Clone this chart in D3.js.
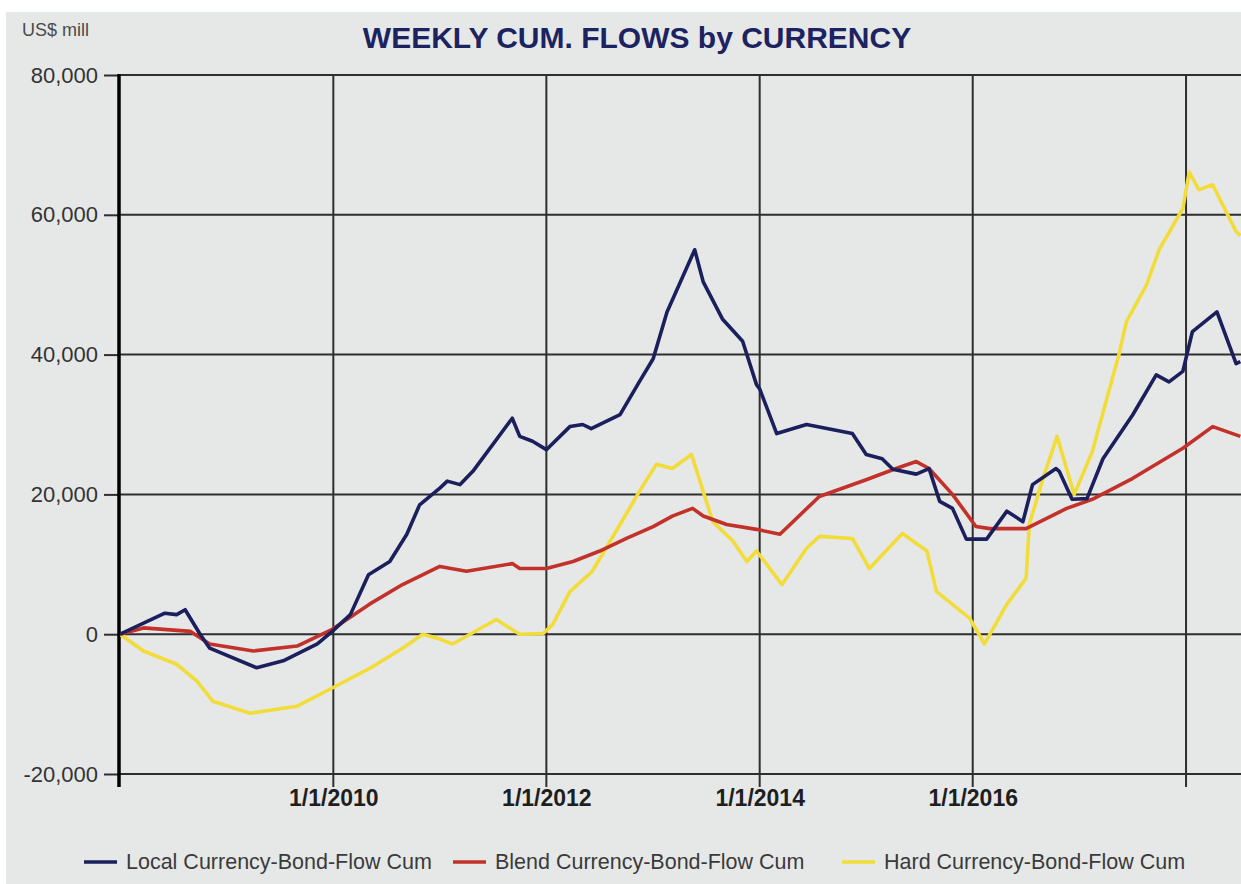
<!DOCTYPE html>
<html>
<head>
<meta charset="utf-8">
<script src="https://cdn.jsdelivr.net/npm/d3@7/dist/d3.min.js"></script>
<style>
  body { margin: 0; background: #fff; }
  svg { display: block; font-family: Arial, "Liberation Sans", sans-serif; }
</style>
</head>
<body>
<script>
// values: [decimal year, US$ mill]
const localFlow = [
  [2008.00, 0], [2008.42, 3000], [2008.53, 2800], [2008.61, 3500], [2008.75, 0],
  [2008.84, -2000], [2009.28, -4800], [2009.53, -3800], [2009.85, -1400], [2009.99, 400],
  [2010.16, 2800], [2010.33, 8500], [2010.53, 10400], [2010.69, 14300], [2010.81, 18500],
  [2011.00, 20900], [2011.07, 21900], [2011.19, 21400], [2011.31, 23300], [2011.68, 30900],
  [2011.75, 28300], [2011.87, 27600], [2012.00, 26400], [2012.22, 29700], [2012.34, 30000],
  [2012.42, 29400], [2012.69, 31400], [2012.87, 36100], [2013.00, 39400], [2013.13, 46100],
  [2013.39, 55000], [2013.47, 50400], [2013.65, 45100], [2013.84, 41900], [2013.97, 35700],
  [2014.00, 35100], [2014.16, 28700], [2014.44, 30000], [2014.87, 28700], [2015.00, 25700],
  [2015.15, 25100], [2015.25, 23600], [2015.47, 22900], [2015.59, 23700], [2015.69, 19000],
  [2015.81, 18000], [2015.94, 13600], [2016.13, 13600], [2016.32, 17600], [2016.47, 16100],
  [2016.56, 21400], [2016.78, 23700], [2016.81, 23300], [2016.93, 19300], [2017.07, 19400],
  [2017.22, 25100], [2017.50, 31400], [2017.72, 37100], [2017.84, 36100], [2017.97, 37600],
  [2018.06, 43300], [2018.29, 46100], [2018.47, 38700], [2018.51, 39000]
];

const blendFlow = [
  [2008.00, 0], [2008.22, 900], [2008.66, 400], [2008.84, -1400], [2009.25, -2400],
  [2009.66, -1700], [2009.99, 700], [2010.34, 4300], [2010.65, 7100], [2011.00, 9700],
  [2011.25, 9000], [2011.68, 10100], [2011.75, 9400], [2012.00, 9400], [2012.25, 10400],
  [2012.50, 11900], [2012.75, 13700], [2013.00, 15400], [2013.18, 16900], [2013.37, 18000],
  [2013.47, 16900], [2013.69, 15700], [2013.97, 15000], [2014.19, 14300], [2014.56, 19700],
  [2015.00, 22100], [2015.28, 23700], [2015.47, 24700], [2015.59, 23700], [2015.81, 20000],
  [2016.03, 15400], [2016.16, 15100], [2016.50, 15100], [2016.88, 18000], [2017.12, 19300],
  [2017.50, 22300], [2017.97, 26600], [2018.25, 29700], [2018.51, 28300]
];

const hardFlow = [
  [2008.00, 0], [2008.22, -2400], [2008.53, -4300], [2008.72, -6700], [2008.87, -9600],
  [2009.22, -11300], [2009.66, -10300], [2009.99, -7700], [2010.34, -4900], [2010.65, -2000],
  [2010.84, 0], [2011.00, -700], [2011.12, -1400], [2011.53, 2100], [2011.75, 0],
  [2011.97, 100], [2012.06, 1400], [2012.22, 6100], [2012.43, 9000], [2012.69, 15700],
  [2012.87, 20400], [2013.03, 24300], [2013.18, 23700], [2013.36, 25700], [2013.47, 20400],
  [2013.56, 16100], [2013.75, 13300], [2013.88, 10400], [2013.97, 11900], [2014.21, 7100],
  [2014.44, 12300], [2014.56, 14000], [2014.87, 13700], [2015.03, 9400], [2015.34, 14400],
  [2015.57, 11900], [2015.66, 6100], [2015.97, 2300], [2016.11, -1400], [2016.32, 4300],
  [2016.50, 8000], [2016.53, 15700], [2016.65, 21900], [2016.79, 28300], [2016.95, 20000],
  [2017.12, 26100], [2017.37, 40000], [2017.44, 44700], [2017.63, 50000], [2017.75, 55100],
  [2017.97, 60900], [2018.03, 66100], [2018.12, 63600], [2018.25, 64300], [2018.47, 57600],
  [2018.51, 57000]
];

const seriesNames = ["Local Currency-Bond-Flow Cum", "Blend Currency-Bond-Flow Cum", "Hard Currency-Bond-Flow Cum"];
const yTicks = [-20000, 0, 20000, 40000, 60000, 80000];
const xTickYears = [2010, 2012, 2014, 2016, 2018];
const xTickLabels = ["1/1/2010", "1/1/2012", "1/1/2014", "1/1/2016", ""];

const colors = ["#1b1f5c", "#c2322b", "#f2dc3a"];

const W = 1241, H = 884;
const m = {left: 120, right: 1241, top: 75, bottom: 774};

// decimal year -> Date
function toDate(yr) {
  const yy = Math.floor(yr);
  const a = Date.UTC(yy, 0, 1), b = Date.UTC(yy + 1, 0, 1);
  return new Date(a + (yr - yy) * (b - a));
}

const svg = d3.select("body").append("svg")
    .attr("width", W)
    .attr("height", H);

// background
svg.append("rect").attr("x", 6).attr("y", 12).attr("width", W - 6).attr("height", H - 12)
    .attr("fill", "#e6e8e8");

const x = d3.scaleUtc()
    .domain([toDate(2008), toDate(2018.516)])
    .range([m.left, m.right]);

const y = d3.scaleLinear()
    .domain([-20000, 80000])
    .range([m.bottom, m.top]);

// horizontal gridlines
svg.append("g")
  .selectAll("line")
  .data(yTicks)
  .join("line")
    .attr("x1", m.left).attr("x2", m.right)
    .attr("y1", d => y(d)).attr("y2", d => y(d))
    .attr("stroke", "#2e2e2e")
    .attr("stroke-width", 2);

// vertical gridlines, running a bit below the plot as tick marks
svg.append("g")
  .selectAll("line")
  .data(xTickYears)
  .join("line")
    .attr("x1", d => x(toDate(d))).attr("x2", d => x(toDate(d)))
    .attr("y1", m.top).attr("y2", m.bottom + 13)
    .attr("stroke", "#2e2e2e")
    .attr("stroke-width", 2);

// y axis
const fmt = d3.format(",");
const yAxis = d3.axisLeft(y)
    .tickValues(yTicks)
    .tickFormat(d => fmt(d).replace("\u2212", "-"))
    .tickSize(16)
    .tickPadding(6);

const gy = svg.append("g")
    .attr("transform", `translate(${m.left},0)`)
    .call(yAxis);
gy.select(".domain").remove();
gy.selectAll(".tick line").attr("stroke", "#2e2e2e").attr("stroke-width", 2);
gy.selectAll(".tick text")
    .attr("fill", "#333")
    .style("font-size", "22px")
    .style("font-family", "Arial, 'Liberation Sans', sans-serif");

svg.append("line")
    .attr("x1", m.left - 1).attr("x2", m.left - 1)
    .attr("y1", m.top - 1).attr("y2", m.bottom + 13)
    .attr("stroke", "#000")
    .attr("stroke-width", 3.5);

// x labels
const xAxis = d3.axisBottom(x)
    .tickValues(xTickYears.map(toDate))
    .tickFormat((d, i) => xTickLabels[i])
    .tickSize(0)
    .tickPadding(16);

const gx = svg.append("g")
    .attr("transform", `translate(0,${m.bottom})`)
    .call(xAxis);
gx.select(".domain").remove();
gx.selectAll(".tick text")
    .attr("fill", "#1e1e1e")
    .style("font-size", "23px")
    .style("font-weight", "bold")
    .style("font-family", "Arial, 'Liberation Sans', sans-serif");

// lines
svg.append("clipPath").attr("id", "plot")
  .append("rect").attr("x", m.left).attr("y", m.top)
    .attr("width", m.right - m.left).attr("height", m.bottom - m.top);

const line = d3.line()
    .x(d => x(toDate(d[0])))
    .y(d => y(d[1]));

const series = [localFlow, blendFlow, hardFlow];
const order = [2, 1, 0];
svg.append("g")
    .attr("clip-path", "url(#plot)")
  .selectAll("path")
  .data(order)
  .join("path")
    .attr("d", i => line(series[i]))
    .attr("fill", "none")
    .attr("stroke", i => colors[i])
    .attr("stroke-width", 3.6)
    .attr("stroke-linejoin", "round");

// title and unit
svg.append("text")
    .attr("x", 637).attr("y", 48)
    .attr("text-anchor", "middle")
    .attr("fill", "#1c2360")
    .style("font-size", "30px")
    .style("font-weight", "bold")
    .text("WEEKLY CUM. FLOWS by CURRENCY");

svg.append("text")
    .attr("x", 22).attr("y", 36)
    .attr("fill", "#4a4a4a")
    .style("font-size", "18px")
    .text("US$ mill");

// legend
const legendX = [84, 453, 842];
const leg = svg.append("g").selectAll("g")
  .data(seriesNames)
  .join("g")
    .attr("transform", (d, i) => `translate(${legendX[i]},862)`);
leg.append("line")
    .attr("x1", 0).attr("x2", 33)
    .attr("stroke", (d, i) => colors[i])
    .attr("stroke-width", 3.5);
leg.append("text")
    .attr("x", 42).attr("y", 7)
    .attr("fill", "#3a3a3a")
    .style("font-size", "21.5px")
    .text(d => d);
</script>
</body>
</html>
